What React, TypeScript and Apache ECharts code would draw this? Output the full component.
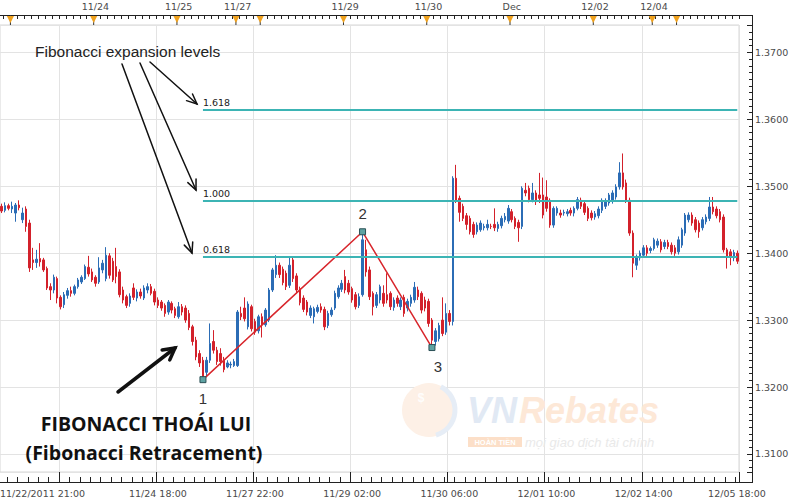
import React, { useEffect, useRef } from 'react';
import * as echarts from 'echarts';

// [open, close, low, high] hourly candles
const candles: number[][] = [
  [1.3470, 1.3463, 1.3460, 1.3474], [1.3464, 1.3471, 1.3461, 1.3476], [1.3471, 1.3467, 1.3464, 1.3474], [1.3466, 1.3470, 1.3460, 1.3477],
  [1.3460, 1.3472, 1.3447, 1.3475], [1.3472, 1.3468, 1.3464, 1.3479], [1.3450, 1.3460, 1.3445, 1.3468], [1.3466, 1.3440, 1.3432, 1.3470],
  [1.3445, 1.3378, 1.3372, 1.3450], [1.3390, 1.3386, 1.3375, 1.3408], [1.3386, 1.3391, 1.3378, 1.3405], [1.3392, 1.3387, 1.3380, 1.3415],
  [1.3390, 1.3375, 1.3372, 1.3393], [1.3377, 1.3348, 1.3345, 1.3380], [1.3350, 1.3345, 1.3330, 1.3355], [1.3345, 1.3364, 1.3340, 1.3368],
  [1.3362, 1.3333, 1.3325, 1.3365], [1.3334, 1.3320, 1.3316, 1.3337], [1.3323, 1.3338, 1.3318, 1.3342], [1.3337, 1.3344, 1.3332, 1.3348],
  [1.3344, 1.3340, 1.3335, 1.3350], [1.3340, 1.3350, 1.3337, 1.3353], [1.3350, 1.3360, 1.3347, 1.3363], [1.3357, 1.3364, 1.3354, 1.3367],
  [1.3362, 1.3380, 1.3360, 1.3383], [1.3379, 1.3369, 1.3365, 1.3396], [1.3372, 1.3360, 1.3357, 1.3377], [1.3364, 1.3355, 1.3350, 1.3367],
  [1.3357, 1.3378, 1.3354, 1.3394], [1.3375, 1.3385, 1.3370, 1.3390], [1.3362, 1.3397, 1.3358, 1.3409], [1.3396, 1.3367, 1.3362, 1.3400],
  [1.3388, 1.3360, 1.3357, 1.3393], [1.3380, 1.3365, 1.3355, 1.3408], [1.3372, 1.3338, 1.3334, 1.3376], [1.3345, 1.3330, 1.3325, 1.3350],
  [1.3335, 1.3322, 1.3318, 1.3338], [1.3325, 1.3336, 1.3320, 1.3340], [1.3348, 1.3334, 1.3330, 1.3355], [1.3333, 1.3342, 1.3328, 1.3346],
  [1.3342, 1.3336, 1.3332, 1.3347], [1.3333, 1.3348, 1.3330, 1.3352], [1.3345, 1.3350, 1.3340, 1.3355], [1.3350, 1.3340, 1.3337, 1.3354],
  [1.3343, 1.3327, 1.3322, 1.3347], [1.3330, 1.3322, 1.3318, 1.3334], [1.3327, 1.3318, 1.3314, 1.3330], [1.3322, 1.3310, 1.3305, 1.3325],
  [1.3312, 1.3327, 1.3308, 1.3330], [1.3325, 1.3315, 1.3310, 1.3328], [1.3317, 1.3307, 1.3303, 1.3320], [1.3305, 1.3320, 1.3302, 1.3327],
  [1.3320, 1.3312, 1.3307, 1.3324], [1.3318, 1.3300, 1.3296, 1.3322], [1.3310, 1.3289, 1.3285, 1.3315], [1.3290, 1.3268, 1.3262, 1.3293],
  [1.3270, 1.3245, 1.3240, 1.3275], [1.3250, 1.3236, 1.3230, 1.3255], [1.3240, 1.3215, 1.3211, 1.3245], [1.3222, 1.3240, 1.3215, 1.3245],
  [1.3240, 1.3265, 1.3236, 1.3295], [1.3268, 1.3255, 1.3250, 1.3285], [1.3255, 1.3238, 1.3233, 1.3260], [1.3250, 1.3238, 1.3232, 1.3258],
  [1.3240, 1.3226, 1.3222, 1.3245], [1.3230, 1.3236, 1.3228, 1.3240], [1.3233, 1.3234, 1.3228, 1.3238], [1.3232, 1.3238, 1.3230, 1.3242],
  [1.3232, 1.3312, 1.3230, 1.3315], [1.3310, 1.3305, 1.3300, 1.3320], [1.3318, 1.3302, 1.3298, 1.3334], [1.3290, 1.3324, 1.3286, 1.3328],
  [1.3320, 1.3287, 1.3283, 1.3323], [1.3298, 1.3282, 1.3278, 1.3302], [1.3284, 1.3305, 1.3280, 1.3308], [1.3305, 1.3293, 1.3274, 1.3310],
  [1.3293, 1.3315, 1.3290, 1.3318], [1.3300, 1.3345, 1.3297, 1.3348], [1.3345, 1.3375, 1.3342, 1.3378], [1.3368, 1.3382, 1.3363, 1.3397],
  [1.3382, 1.3368, 1.3363, 1.3386], [1.3376, 1.3356, 1.3352, 1.3380], [1.3370, 1.3350, 1.3345, 1.3374], [1.3352, 1.3382, 1.3348, 1.3394],
  [1.3390, 1.3362, 1.3357, 1.3394], [1.3366, 1.3345, 1.3340, 1.3370], [1.3347, 1.3326, 1.3322, 1.3350], [1.3333, 1.3316, 1.3312, 1.3337],
  [1.3327, 1.3312, 1.3307, 1.3330], [1.3307, 1.3318, 1.3303, 1.3322], [1.3305, 1.3317, 1.3295, 1.3320], [1.3313, 1.3319, 1.3310, 1.3323],
  [1.3320, 1.3315, 1.3311, 1.3325], [1.3316, 1.3290, 1.3285, 1.3320], [1.3292, 1.3310, 1.3288, 1.3314], [1.3308, 1.3315, 1.3305, 1.3319],
  [1.3318, 1.3340, 1.3315, 1.3344], [1.3335, 1.3348, 1.3332, 1.3352], [1.3346, 1.3355, 1.3342, 1.3360], [1.3365, 1.3345, 1.3340, 1.3375],
  [1.3355, 1.3342, 1.3338, 1.3360], [1.3347, 1.3330, 1.3326, 1.3350], [1.3338, 1.3320, 1.3316, 1.3342], [1.3322, 1.3335, 1.3318, 1.3340],
  [1.3338, 1.3420, 1.3335, 1.3432], [1.3405, 1.3372, 1.3365, 1.3420], [1.3375, 1.3335, 1.3330, 1.3380], [1.3340, 1.3320, 1.3307, 1.3343],
  [1.3322, 1.3338, 1.3318, 1.3342], [1.3330, 1.3350, 1.3325, 1.3353], [1.3340, 1.3325, 1.3320, 1.3352], [1.3338, 1.3330, 1.3325, 1.3370],
  [1.3340, 1.3320, 1.3315, 1.3343], [1.3319, 1.3330, 1.3314, 1.3334], [1.3333, 1.3325, 1.3320, 1.3337], [1.3320, 1.3330, 1.3315, 1.3334],
  [1.3334, 1.3310, 1.3305, 1.3338], [1.3318, 1.3328, 1.3313, 1.3332], [1.3325, 1.3334, 1.3320, 1.3338], [1.3330, 1.3349, 1.3326, 1.3357],
  [1.3345, 1.3335, 1.3330, 1.3350], [1.3340, 1.3315, 1.3310, 1.3343], [1.3330, 1.3318, 1.3313, 1.3335], [1.3328, 1.3295, 1.3290, 1.3332],
  [1.3300, 1.3270, 1.3259, 1.3303], [1.3268, 1.3284, 1.3262, 1.3288], [1.3272, 1.3292, 1.3268, 1.3296], [1.3300, 1.3280, 1.3276, 1.3334],
  [1.3282, 1.3310, 1.3278, 1.3325], [1.3310, 1.3298, 1.3292, 1.3315], [1.3298, 1.3512, 1.3292, 1.3515], [1.3512, 1.3479, 1.3475, 1.3532],
  [1.3482, 1.3461, 1.3447, 1.3486], [1.3470, 1.3452, 1.3448, 1.3474], [1.3456, 1.3443, 1.3435, 1.3460], [1.3452, 1.3432, 1.3428, 1.3456],
  [1.3443, 1.3428, 1.3423, 1.3447], [1.3432, 1.3442, 1.3428, 1.3446], [1.3435, 1.3445, 1.3432, 1.3449], [1.3438, 1.3440, 1.3434, 1.3444],
  [1.3438, 1.3443, 1.3434, 1.3450], [1.3440, 1.3440, 1.3436, 1.3444], [1.3443, 1.3438, 1.3433, 1.3467], [1.3437, 1.3443, 1.3432, 1.3447],
  [1.3441, 1.3452, 1.3437, 1.3456], [1.3450, 1.3455, 1.3446, 1.3460], [1.3448, 1.3467, 1.3444, 1.3472], [1.3462, 1.3450, 1.3446, 1.3466],
  [1.3452, 1.3440, 1.3436, 1.3455], [1.3446, 1.3438, 1.3417, 1.3450], [1.3440, 1.3497, 1.3436, 1.3500], [1.3494, 1.3490, 1.3485, 1.3505],
  [1.3497, 1.3480, 1.3476, 1.3501], [1.3480, 1.3490, 1.3476, 1.3505], [1.3490, 1.3477, 1.3472, 1.3494], [1.3487, 1.3482, 1.3475, 1.3520],
  [1.3487, 1.3457, 1.3452, 1.3513], [1.3484, 1.3467, 1.3462, 1.3509], [1.3479, 1.3442, 1.3438, 1.3482], [1.3442, 1.3467, 1.3438, 1.3470],
  [1.3460, 1.3467, 1.3456, 1.3470], [1.3460, 1.3457, 1.3453, 1.3465], [1.3460, 1.3461, 1.3456, 1.3465], [1.3459, 1.3462, 1.3455, 1.3466],
  [1.3464, 1.3460, 1.3456, 1.3468], [1.3460, 1.3467, 1.3455, 1.3470], [1.3467, 1.3480, 1.3464, 1.3484], [1.3479, 1.3470, 1.3466, 1.3483],
  [1.3474, 1.3461, 1.3457, 1.3478], [1.3467, 1.3452, 1.3448, 1.3470], [1.3460, 1.3453, 1.3449, 1.3464], [1.3454, 1.3459, 1.3450, 1.3463],
  [1.3456, 1.3466, 1.3452, 1.3470], [1.3464, 1.3479, 1.3460, 1.3482], [1.3470, 1.3478, 1.3466, 1.3482], [1.3475, 1.3487, 1.3471, 1.3490],
  [1.3478, 1.3490, 1.3474, 1.3494], [1.3484, 1.3499, 1.3480, 1.3503], [1.3499, 1.3520, 1.3495, 1.3536], [1.3520, 1.3499, 1.3495, 1.3549],
  [1.3505, 1.3479, 1.3475, 1.3510], [1.3479, 1.3430, 1.3426, 1.3483], [1.3430, 1.3385, 1.3364, 1.3434], [1.3382, 1.3394, 1.3375, 1.3398],
  [1.3393, 1.3400, 1.3389, 1.3404], [1.3397, 1.3408, 1.3393, 1.3412], [1.3408, 1.3400, 1.3396, 1.3412], [1.3404, 1.3407, 1.3400, 1.3410],
  [1.3407, 1.3420, 1.3404, 1.3423], [1.3412, 1.3418, 1.3408, 1.3422], [1.3417, 1.3405, 1.3401, 1.3421], [1.3410, 1.3416, 1.3406, 1.3420],
  [1.3416, 1.3410, 1.3406, 1.3420], [1.3412, 1.3402, 1.3398, 1.3416], [1.3408, 1.3400, 1.3396, 1.3412], [1.3402, 1.3420, 1.3398, 1.3425],
  [1.3412, 1.3435, 1.3408, 1.3438], [1.3430, 1.3457, 1.3426, 1.3460], [1.3450, 1.3457, 1.3446, 1.3461], [1.3457, 1.3445, 1.3441, 1.3461],
  [1.3450, 1.3435, 1.3431, 1.3454], [1.3445, 1.3432, 1.3423, 1.3449], [1.3438, 1.3450, 1.3434, 1.3454], [1.3447, 1.3454, 1.3443, 1.3458],
  [1.3452, 1.3469, 1.3448, 1.3484], [1.3469, 1.3462, 1.3458, 1.3484], [1.3466, 1.3456, 1.3452, 1.3470], [1.3462, 1.3450, 1.3446, 1.3466],
  [1.3454, 1.3405, 1.3401, 1.3458], [1.3405, 1.3394, 1.3377, 1.3408], [1.3402, 1.3394, 1.3382, 1.3406], [1.3393, 1.3401, 1.3388, 1.3405],
  [1.3400, 1.3388, 1.3384, 1.3404],
];
const categories = candles.map((_, i) => String(i));

// Fibonacci expansion levels
const fibRatios = ['0.618', '1.000', '1.618'];
const fibPrices = [1.3395, 1.3479, 1.3615];
const fibStartIndex = 58;

// swing points 1-2-3
const swingIndex = [58, 104, 124];
const swingPrice = [1.3211, 1.3432, 1.3259];
const swingLabels = ['1', '2', '3'];

// bottom time axis
const gridIdx = [17, 45, 73, 101, 129, 157, 185];
const bottomLabelIdx = [45, 73, 101, 129, 157, 185];
const bottomLabelText = ['11/24 18:00', '11/27 22:00', '11/29 02:00', '11/30 06:00', '12/01 10:00', '12/02 14:00'];
const bottomFirstLabel = '11/22/2011 21:00';
const bottomLastLabel = '12/05 18:00';

// top date axis
const dayMarkerIdx = [3, 27, 51, 68, 75, 99, 123, 147, 171, 188, 195];
const dayLabelIdx = [27, 51, 68, 99, 123, 147, 171, 188];
const dayLabelText = ['11/24', '11/25', '11/27', '11/29', '11/30', 'Dec', '12/02', '12/04'];

const yMin = 1.3073;
const yMax = 1.3741;

const AX = '#222';
const LBL = '#4a4a4a';
const FONT = 'DejaVu Sans';

function arrow(x1: number, y1: number, x2: number, y2: number, w: number, head: number, spread = 0.42) {
  const a = Math.atan2(y2 - y1, x2 - x1);
  const h1 = [x2 - head * Math.cos(a - spread), y2 - head * Math.sin(a - spread)];
  const h2 = [x2 - head * Math.cos(a + spread), y2 - head * Math.sin(a + spread)];
  return [
    { type: 'line', shape: { x1, y1, x2, y2 }, style: { stroke: '#111', lineWidth: w, lineCap: 'round' }, z: 20 },
    { type: 'polyline', shape: { points: [h1, [x2, y2], h2] }, style: { stroke: '#111', lineWidth: w, fill: null, lineJoin: 'miter', lineCap: 'round' }, z: 20 },
  ];
}

function txt(text: string, x: number, y: number, font: string, fill: string, align = 'left', extra: any = {}) {
  return {
    type: 'text', z: 20, silent: true,
    style: { text, x, y, font, fill, textAlign: align, align, textVerticalAlign: 'middle', verticalAlign: 'middle', ...extra },
  };
}

export default function App() {
  const ref = useRef<HTMLDivElement>(null);
  useEffect(() => {
    const chart = echarts.init(ref.current!, null, { renderer: 'svg' });
    const lastIdx = candles.length - 1;

    const option: any = {
      animation: false,
      backgroundColor: '#ffffff',
      grid: { left: 0, right: 61, top: 25, bottom: 28, show: true, borderColor: '#d6d6d6', borderWidth: 1 },
      xAxis: [
        {
          type: 'category', data: categories, position: 'bottom', offset: 10, boundaryGap: true,
          axisLine: { show: true, lineStyle: { color: AX, width: 1 } },
          axisTick: { show: true, inside: true, length: 10, interval: (i: number) => gridIdx.includes(i), lineStyle: { color: AX } },
          axisLabel: {
            show: true, interval: (i: number) => bottomLabelIdx.includes(i),
            formatter: (_v: string, i: number) => bottomLabelText[bottomLabelIdx.indexOf(i)] ?? '',
            color: LBL, fontSize: 9.5, fontFamily: FONT, margin: 6,
          },
          splitLine: { show: true, interval: (i: number) => gridIdx.includes(i), lineStyle: { color: '#e3e3e3', width: 1 } },
        },
        {
          type: 'category', data: categories, position: 'bottom', offset: 10,
          axisLine: { show: false },
          axisTick: { show: true, inside: true, length: 5, interval: (i: number) => i % 3 === 2, lineStyle: { color: AX } },
          axisLabel: { show: false }, splitLine: { show: false },
        },
        {
          type: 'category', data: categories, position: 'top', offset: 10,
          axisLine: { show: true, lineStyle: { color: AX, width: 1 } },
          axisTick: { show: true, inside: true, length: 4, interval: (i: number) => i % 2 === 1, lineStyle: { color: AX } },
          axisLabel: {
            show: true, interval: (i: number) => dayLabelIdx.includes(i),
            formatter: (_v: string, i: number) => dayLabelText[dayLabelIdx.indexOf(i)] ?? '',
            color: LBL, fontSize: 9.5, fontFamily: FONT, margin: 4,
          },
          splitLine: { show: false },
        },
      ],
      yAxis: {
        type: 'value', position: 'right', offset: 13, min: yMin, max: yMax, splitNumber: 6,
        axisLine: { show: true, lineStyle: { color: AX } },
        axisTick: { show: true, inside: true, length: 5, lineStyle: { color: AX } },
        minorTick: { show: true, splitNumber: 10, length: 3, lineStyle: { color: AX } },
        axisLabel: {
          formatter: (v: number) => v.toFixed(4), showMinLabel: false, showMaxLabel: false,
          color: LBL, fontSize: 9.5, fontFamily: FONT, margin: 3,
        },
        splitLine: { show: true, lineStyle: { color: '#e3e3e3' } },
      },
      series: [
        {
          type: 'candlestick', name: 'price', data: candles, xAxisIndex: 0, yAxisIndex: 0, barWidth: 2, z: 2,
          itemStyle: { color: '#2b6cb5', color0: '#d3212b', borderColor: '#2b6cb5', borderColor0: '#d3212b', borderWidth: 1 },
        },
        {
          type: 'line', name: 'fib', data: [], xAxisIndex: 0, yAxisIndex: 0, z: 3,
          markLine: {
            silent: true, symbol: ['none', 'none'], animation: false,
            lineStyle: { color: '#3cb4b4', width: 2, type: 'solid' },
            label: {
              show: true, position: 'insideStartTop', formatter: '{b}', color: '#222',
              fontSize: 9.5, fontFamily: FONT, distance: [0, 2],
            },
            data: fibPrices.map((v, k) => [
              { coord: [fibStartIndex, v], name: fibRatios[k] },
              { coord: [lastIdx, v] },
            ]),
          },
        },
        {
          type: 'line', name: 'swing', xAxisIndex: 0, yAxisIndex: 0, z: 4,
          symbol: 'rect', symbolSize: 6, showAllSymbol: true,
          lineStyle: { color: '#d8262c', width: 1.5 },
          itemStyle: { color: '#5ea3a3', borderColor: '#2a4f55', borderWidth: 1 },
          label: { show: true, color: '#333', fontSize: 15, fontFamily: 'Liberation Sans', formatter: (p: any) => swingLabels[p.dataIndex] },
          data: swingIndex.map((x, k) => ({
            value: [x, swingPrice[k]],
            label: k === 1 ? { position: 'top', distance: 7 } : { position: 'bottom', distance: 8, offset: k === 2 ? [6, 0] : [0, 0] },
          })),
        },
        {
          type: 'custom', name: 'days', xAxisIndex: 0, yAxisIndex: 0, z: 10, silent: true, clip: false,
          data: dayMarkerIdx.map((i) => [i, yMin]),
          renderItem: (params: any, api: any) => {
            const cs = params.coordSys;
            const bw = api.size([1, 0])[0];
            const x = api.coord([api.value(0), api.value(1)])[0] - bw / 2;
            const top = cs.y - 10;
            return {
              type: 'group',
              children: [
                { type: 'line', shape: { x1: x, y1: top, x2: x, y2: cs.y }, style: { stroke: '#333', lineWidth: 1 } },
                { type: 'polygon', shape: { points: [[x - 3.5, top + 1], [x + 3.5, top + 1], [x, top + 8]] }, style: { fill: '#f0a21e' } },
              ],
            };
          },
        },
      ],
      graphic: [
        // frame corners
        { type: 'line', shape: { x1: 739, y1: 15.5, x2: 752.5, y2: 15.5 }, style: { stroke: AX, lineWidth: 1 } },
        { type: 'line', shape: { x1: 752.5, y1: 15, x2: 752.5, y2: 25 }, style: { stroke: AX, lineWidth: 1 } },
        { type: 'line', shape: { x1: 739, y1: 482.5, x2: 752.5, y2: 482.5 }, style: { stroke: AX, lineWidth: 1 } },
        { type: 'line', shape: { x1: 752.5, y1: 472, x2: 752.5, y2: 483 }, style: { stroke: AX, lineWidth: 1 } },
        txt(bottomFirstLabel, 0, 493, `9.5px "${FONT}"`, LBL, 'left'),
        txt(bottomLastLabel, 737, 493, `9.5px "${FONT}"`, LBL, 'center'),
        // watermark
        { type: 'circle', shape: { cx: 429, cy: 410, r: 27 }, style: { fill: '#fdf0e6' }, z: 1, silent: true },
        { type: 'arc', shape: { cx: 429, cy: 410, r: 26, startAngle: -1.1, endAngle: 1.3 }, style: { stroke: '#e6edf6', lineWidth: 5, fill: null }, z: 1, silent: true },
        txt('$', 421, 398, 'bold 12px "Liberation Sans"', '#ffffff', 'center', { opacity: 0.9 }),
        txt('VN', 467, 410, 'italic bold 36px "Liberation Sans"', '#e1e9f4', 'left'),
        txt('Rebates', 519, 410, 'italic bold 36px "Liberation Sans"', '#fde8d7', 'left'),
        { type: 'rect', shape: { x: 468, y: 437, width: 54, height: 10 }, style: { fill: '#fcdfc8' }, z: 19, silent: true },
        txt('HOÀN TIỀN', 495, 442, 'bold 7.5px "Liberation Sans"', '#ffffff', 'center'),
        txt('mọi giao dịch tài chính', 525, 442, 'italic 13px "Liberation Sans"', '#e9e9e9', 'left'),
        // annotations
        txt('Fibonacci expansion levels', 35, 51, '15.5px "Liberation Sans"', '#222', 'left'),
        ...arrow(150, 62, 197, 104, 1.5, 11),
        ...arrow(140, 63, 196, 190, 1.5, 11),
        ...arrow(122, 64, 192, 253, 1.5, 11),
        ...arrow(118, 392, 175, 348, 3.5, 13, 0.5),
        txt('FIBONACCI THOÁI LUI', 146, 423, 'bold 19.5px "Open Sans"', '#111', 'center'),
        txt('(Fibonacci Retracement)', 144, 452, 'bold 19.5px "Open Sans"', '#111', 'center'),
      ],
    };
    chart.setOption(option);
    return () => chart.dispose();
  }, []);
  return <div ref={ref} style={{ position: 'fixed', left: 0, top: 0, width: 800, height: 500, background: '#fff' }} />;
}
